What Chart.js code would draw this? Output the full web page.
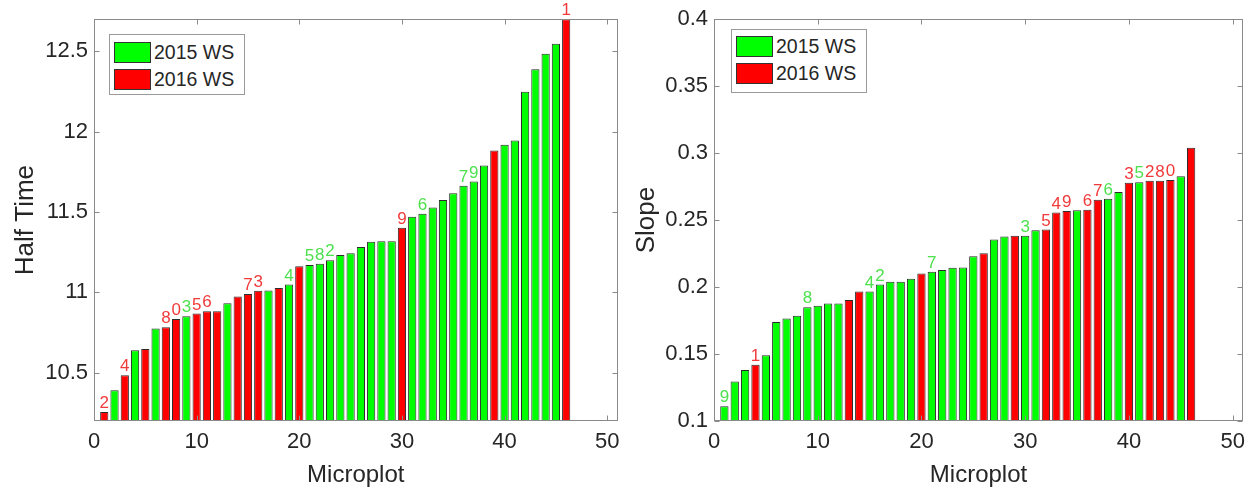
<!DOCTYPE html>
<html>
<head>
<meta charset="utf-8">
<script src="https://cdn.jsdelivr.net/npm/chart.js@4.4.1/dist/chart.umd.min.js"></script>
<style>
  html, body { margin: 0; padding: 0; background: #fff; }
  body { width: 1256px; height: 495px; position: relative; overflow: hidden; font-family: "Liberation Sans", Arial, sans-serif; }
  canvas { position: absolute; top: 0; }
  .legend { position: absolute; background: #fff; border: 1px solid #9a9a9a; box-sizing: border-box; }
  .legend .row { position: absolute; left: 0; height: 22px; display: flex; align-items: center; }
  .legend .sw { width: 37px; height: 21px; box-sizing: border-box; border: 1px solid #333; margin-left: 4px; }
  .legend .tx { font-size: 19.5px; color: #262626; margin-left: 3px; white-space: nowrap; line-height: 22px; }
</style>
</head>
<body>
<canvas id="left" width="628" height="495" style="left:0px;width:628px;height:495px"></canvas>
<canvas id="right" width="628" height="495" style="left:628px;width:628px;height:495px"></canvas>

<div class="legend" style="left:109px;top:34px;width:136px;height:61px">
  <div class="row" style="top:6px"><div class="sw" style="background:#00ff00"></div><div class="tx">2015 WS</div></div>
  <div class="row" style="top:33px"><div class="sw" style="background:#ff0000"></div><div class="tx">2016 WS</div></div>
</div>
<div class="legend" style="left:731px;top:29px;width:136px;height:64px">
  <div class="row" style="top:5px"><div class="sw" style="background:#00ff00"></div><div class="tx">2015 WS</div></div>
  <div class="row" style="top:32px"><div class="sw" style="background:#ff0000"></div><div class="tx">2016 WS</div></div>
</div>

<script>
// ---------- data ----------
const microplots = [1,2,3,4,5,6,7,8,9,10,11,12,13,14,15,16,17,18,19,20,21,22,23,24,25,26,27,28,29,30,31,32,33,34,35,36,37,38,39,40,41,42,43,44,45,46];

const halfTimeValues = [10.256,10.392,10.485,10.640,10.648,10.775,10.783,10.835,10.852,10.869,10.883,10.883,10.933,10.975,10.990,11.010,11.012,11.027,11.050,11.163,11.170,11.179,11.200,11.233,11.244,11.283,11.315,11.319,11.319,11.402,11.471,11.490,11.529,11.575,11.617,11.663,11.690,11.790,11.883,11.919,11.946,12.248,12.388,12.485,12.548,12.700];
const halfTimeYears = [2016,2015,2016,2015,2016,2015,2016,2016,2015,2016,2016,2016,2015,2016,2016,2016,2015,2016,2015,2016,2015,2015,2015,2015,2015,2015,2015,2015,2015,2016,2015,2015,2015,2015,2015,2015,2015,2015,2016,2015,2015,2015,2015,2015,2015,2016];
const halfTimeLabels = ['2','','4','','','','8','0','3','5','6','','','','7','3','','','4','','5','8','2','','','','','','','9','','6','','','','7','9','','','','','','','','','1'];

const slopeValues = [0.1110,0.1295,0.1380,0.1420,0.1490,0.1740,0.1765,0.1785,0.1850,0.1860,0.1877,0.1877,0.1904,0.1966,0.1966,0.2020,0.2040,0.2040,0.2062,0.2102,0.2114,0.2127,0.2144,0.2146,0.2231,0.2253,0.2355,0.2377,0.2384,0.2384,0.2424,0.2429,0.2556,0.2568,0.2573,0.2577,0.2652,0.2659,0.2709,0.2778,0.2783,0.2793,0.2793,0.2800,0.2828,0.3040];
const slopeYears = [2015,2015,2015,2016,2015,2015,2015,2015,2015,2015,2015,2015,2016,2016,2015,2015,2015,2015,2015,2016,2015,2015,2015,2015,2015,2016,2015,2015,2016,2015,2015,2016,2016,2016,2015,2016,2016,2015,2015,2016,2015,2016,2016,2016,2015,2016];
const slopeLabels = ['9','','','1','','','','','8','','','','','','4','2','','','','','7','','','','','','','','','3','','5','4','9','','6','7','6','','3','5','2','8','0','',''];

const xTickValues = [0,10,20,30,40,50];
const halfTimeTicks = [10.5,11,11.5,12,12.5];
const slopeTicks = [0.1,0.15,0.2,0.25,0.3,0.35,0.4];

const seriesNames = {2015: '2015 WS', 2016: '2016 WS'};
const barColors = {2015: '#00ff00', 2016: '#ff0000'};
const labelColors = {2015: '#4fe04f', 2016: '#f03a3a'};

// ---------- helpers ----------
const FONT = "'Liberation Sans', Arial, sans-serif";
const TEXT = '#262626';
const AXIS = '#8a8a8a';

const matlabBox = {
  id: 'matlabBox',
  afterDatasetsDraw(chart, args, opts) {
    const {ctx, chartArea} = chart;
    const {x, y} = chart.scales;
    const L = Math.round(chartArea.left) + 0.5, R = Math.round(chartArea.right) - 0.5;
    const T = Math.round(chartArea.top) + 0.5, B = Math.round(chartArea.bottom) - 0.5;
    ctx.save();
    // bar value labels
    const meta = chart.getDatasetMeta(0);
    ctx.font = '17px ' + FONT;
    ctx.textAlign = 'center';
    ctx.textBaseline = 'bottom';
    meta.data.forEach((bar, i) => {
      const t = opts.labels[i];
      if (!t) return;
      ctx.fillStyle = labelColors[opts.years[i]];
      ctx.fillText(t, bar.x, bar.y);
    });
    // box
    ctx.strokeStyle = AXIS;
    ctx.lineWidth = 1;
    ctx.strokeRect(L, T, R - L, B - T);
    // inward ticks on all sides
    const tl = 5;
    ctx.beginPath();
    opts.xTicks.forEach(v => {
      const px = Math.round(x.getPixelForValue(v)) + 0.5;
      ctx.moveTo(px, B); ctx.lineTo(px, B - tl);
      ctx.moveTo(px, T); ctx.lineTo(px, T + tl);
    });
    opts.yTicks.forEach(v => {
      const py = Math.round(y.getPixelForValue(v)) + 0.5;
      ctx.moveTo(L, py); ctx.lineTo(L + tl, py);
      ctx.moveTo(R, py); ctx.lineTo(R - tl, py);
    });
    ctx.stroke();
    ctx.restore();
  }
};

function makeChart(id, cfg) {
  const data = microplots.map((m, i) => ({x: m, y: cfg.values[i]}));
  return new Chart(document.getElementById(id), {
    type: 'bar',
    data: {
      datasets: [{
        label: cfg.yTitle,
        data: data,
        backgroundColor: cfg.years.map(yr => barColors[yr]),
        borderColor: '#2b2b2b',
        borderWidth: 1,
        borderSkipped: false,
        barPercentage: 0.8,
        categoryPercentage: 1.0
      }]
    },
    options: {
      responsive: false,
      animation: false,
      devicePixelRatio: 1,
      layout: { padding: { top: cfg.padTop, right: cfg.padRight, left: 0, bottom: 0 } },
      plugins: {
        legend: { display: false },
        tooltip: { enabled: false },
        matlabBox: { labels: cfg.labels, years: cfg.years, xTicks: xTickValues, yTicks: cfg.yTicks }
      },
      scales: {
        x: {
          type: 'linear',
          min: 0, max: 51,
          offset: false,
          grid: { display: false, offset: false, drawTicks: false },
          border: { display: false },
          afterBuildTicks: s => { s.ticks = xTickValues.map(v => ({value: v})); },
          afterFit: s => { s.height = 495 - cfg.bottom; },
          ticks: { font: { family: FONT, size: 22 }, color: TEXT, padding: 8, maxRotation: 0, autoSkip: false, callback: v => String(v) },
          title: { display: true, text: 'Microplot', font: { family: FONT, size: 24 }, color: TEXT, padding: { top: 0, bottom: 5 } }
        },
        y: {
          type: 'linear',
          min: cfg.yMin, max: cfg.yMax,
          beginAtZero: false,
          grid: { display: false, drawTicks: false },
          border: { display: false },
          afterBuildTicks: s => { s.ticks = cfg.yTicks.map(v => ({value: v})); },
          afterFit: s => { s.width = cfg.axisLeft; },
          ticks: { font: { family: FONT, size: 22 }, color: TEXT, padding: 6, autoSkip: false, callback: v => String(v) },
          title: { display: true, text: cfg.yTitle, font: { family: FONT, size: 26 }, color: TEXT, padding: { top: cfg.titlePad, bottom: 0 } }
        }
      }
    },
    plugins: [matlabBox]
  });
}

makeChart('left', {
  values: halfTimeValues, years: halfTimeYears, labels: halfTimeLabels,
  yMin: 10.2, yMax: 12.7, yTicks: halfTimeTicks, yTitle: 'Half Time',
  axisLeft: 94, padTop: 19, padRight: 10.5, bottom: 421, titlePad: 10
});
makeChart('right', {
  values: slopeValues, years: slopeYears, labels: slopeLabels,
  yMin: 0.1, yMax: 0.4, yTicks: slopeTicks, yTitle: 'Slope',
  axisLeft: 86, padTop: 17, padRight: 13, bottom: 421, titlePad: 3
});
</script>
</body>
</html>
